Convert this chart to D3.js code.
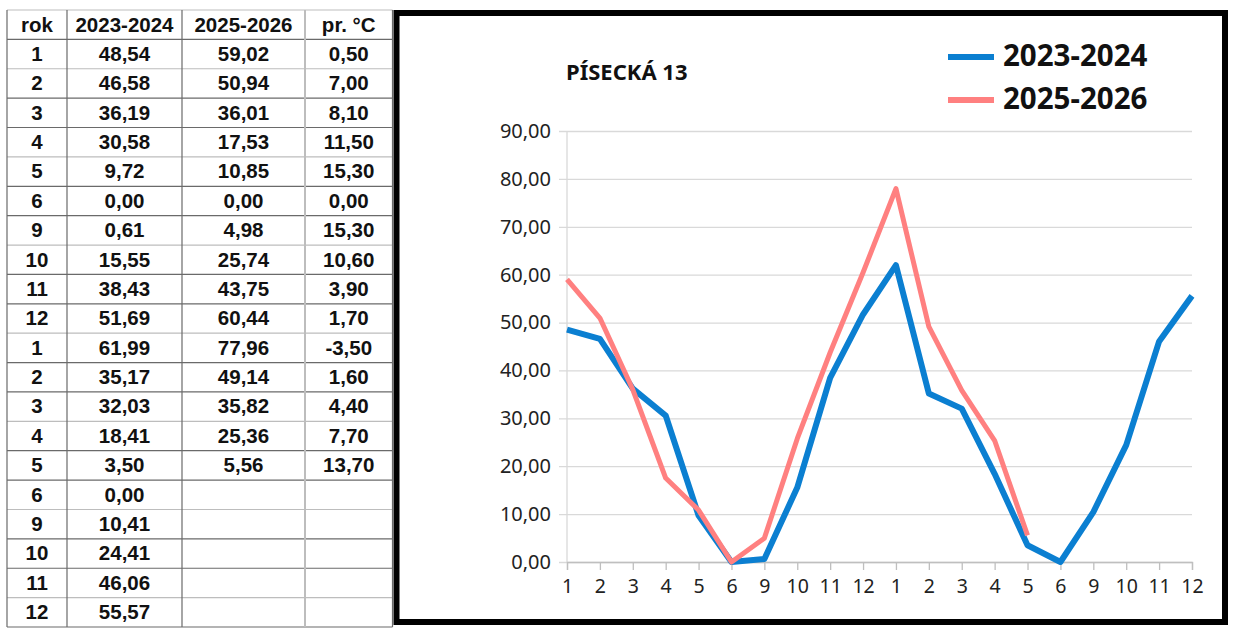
<!DOCTYPE html>
<html>
<head>
<meta charset="utf-8">
<script src="https://cdn.jsdelivr.net/npm/d3@7"></script>
<style>
  html, body { margin: 0; padding: 0; background: #fff; }
  svg { display: block; }
</style>
</head>
<body>
<div class="vis"></div>
<script>
(function() {
  'use strict';

  // table + chart data
  var months = [1, 2, 3, 4, 5, 6, 9, 10, 11, 12, 1, 2, 3, 4, 5, 6, 9, 10, 11, 12];
  var s2023 = [48.54, 46.58, 36.19, 30.58, 9.72, 0.00, 0.61, 15.55, 38.43, 51.69,
               61.99, 35.17, 32.03, 18.41, 3.50, 0.00, 10.41, 24.41, 46.06, 55.57];
  var s2025 = [59.02, 50.94, 36.01, 17.53, 10.85, 0.00, 4.98, 25.74, 43.75, 60.44,
               77.96, 49.14, 35.82, 25.36, 5.56];
  var temps = [0.50, 7.00, 8.10, 11.50, 15.30, 0.00, 15.30, 10.60, 3.90, 1.70,
               -3.50, 1.60, 4.40, 7.70, 13.70];
  var headers = ['rok', '2023-2024', '2025-2026', 'pr. °C'];
  var seriesNames = ['2023-2024', '2025-2026'];
  var yTicks = [0, 10, 20, 30, 40, 50, 60, 70, 80, 90];
  var title = 'PÍSECKÁ 13';

  var W = 1237, H = 638;
  var blue = '#0b7fd1', pink = '#ff8080';

  var svg = d3.select('.vis').append('svg')
    .attr('width', W)
    .attr('height', H);

  var fmt = function(v) { return d3.format('.2f')(v).replace('.', ',').replace('−', '-'); };

  // ---- table ----
  var colX = [7, 67, 182, 305, 392.5],
    tTop = 10, tBottom = 627,
    rowH = (tBottom - tTop) / (months.length + 1);

  var tbl = svg.append('g').attr('class', 'table');

  d3.range(months.length + 2).forEach(function(k) {
    var light = (k === 0 || k % 3 === 2) && k !== months.length + 1;
    tbl.append('line')
      .attr('x1', colX[0]).attr('x2', colX[4])
      .attr('y1', tTop + k * rowH).attr('y2', tTop + k * rowH)
      .attr('stroke', light ? '#bdbdbd' : '#6a6a6a')
      .attr('stroke-width', 1.2);
  });
  colX.forEach(function(x, i) {
    tbl.append('line')
      .attr('x1', x).attr('x2', x)
      .attr('y1', tTop).attr('y2', tBottom)
      .attr('stroke', i === 3 ? '#bdbdbd' : '#6a6a6a')
      .attr('stroke-width', i === 3 ? 2 : 1.2);
  });

  var rows = [headers].concat(months.map(function(m, i) {
    return [m, fmt(s2023[i]),
      i < s2025.length ? fmt(s2025[i]) : '',
      i < temps.length ? fmt(temps[i]) : ''];
  }));

  rows.forEach(function(r, ri) {
    r.forEach(function(txt, ci) {
      tbl.append('text')
        .attr('x', (colX[ci] + colX[ci + 1]) / 2)
        .attr('y', tTop + ri * rowH + 21.5)
        .attr('text-anchor', 'middle')
        .attr('font-family', 'Liberation Sans, Arial, sans-serif')
        .attr('font-weight', 'bold')
        .attr('font-size', 20.5)
        .attr('fill', '#111')
        .text(txt);
    });
  });

  // ---- chart ----
  var x = d3.scalePoint()
    .domain(d3.range(months.length))
    .range([567, 1192]);

  var y = d3.scaleLinear()
    .domain([0, 90])
    .range([562, 131]);

  var chartFont = 'Noto Sans, sans-serif';

  // gridlines + y labels (axis placed at right edge, ticks run left)
  var yAxis = svg.append('g')
    .attr('transform', 'translate(1192,0)')
    .call(d3.axisLeft(y)
      .tickValues(yTicks)
      .tickSize(1192 - 559)
      .tickPadding(8)
      .tickFormat(fmt));
  yAxis.select('.domain').remove();
  yAxis.selectAll('line').attr('stroke', '#d9d9d9').attr('stroke-width', 1.3);
  yAxis.selectAll('text')
    .attr('font-family', chartFont)
    .attr('font-size', 20)
    .attr('fill', '#222');

  svg.append('line')
    .attr('x1', 567).attr('x2', 567)
    .attr('y1', y(90)).attr('y2', y(0))
    .attr('stroke', '#d9d9d9').attr('stroke-width', 1.3);

  var xAxis = svg.append('g')
    .attr('transform', 'translate(0,' + y(0) + ')')
    .call(d3.axisBottom(x)
      .tickSize(8)
      .tickPadding(9)
      .tickFormat(function(i) { return months[i]; }));
  xAxis.select('.domain').attr('stroke', '#bfbfbf').attr('stroke-width', 1.3);
  xAxis.selectAll('line').attr('stroke', '#bfbfbf').attr('stroke-width', 1.3);
  xAxis.selectAll('text')
    .attr('font-family', chartFont)
    .attr('font-size', 19.5)
    .attr('fill', '#222');

  var line = d3.line()
    .x(function(d, i) { return x(i); })
    .y(function(d) { return y(d); });

  svg.append('path')
    .datum(s2023)
    .attr('d', line)
    .attr('fill', 'none')
    .attr('stroke', blue)
    .attr('stroke-width', 6)
    .attr('stroke-linejoin', 'round');

  svg.append('path')
    .datum(s2025)
    .attr('d', line)
    .attr('fill', 'none')
    .attr('stroke', pink)
    .attr('stroke-width', 5)
    .attr('stroke-linejoin', 'round');

  // title
  svg.append('text')
    .attr('x', 566)
    .attr('y', 80)
    .attr('font-family', chartFont)
    .attr('font-weight', 'bold')
    .attr('font-size', 22)
    .attr('fill', '#111')
    .text(title);

  // legend
  var legend = svg.append('g');
  [blue, pink].forEach(function(c, i) {
    var ly = 57 + i * 43;
    legend.append('line')
      .attr('x1', 948).attr('x2', 994)
      .attr('y1', ly).attr('y2', ly)
      .attr('stroke', c)
      .attr('stroke-width', 6);
    legend.append('text')
      .attr('x', 1003)
      .attr('y', ly + 9)
      .attr('font-family', chartFont)
      .attr('font-weight', 'bold')
      .attr('font-size', 29.5)
      .attr('fill', '#111')
      .text(seriesNames[i]);
  });

  // frame
  svg.append('rect')
    .attr('x', 396.5).attr('y', 13)
    .attr('width', 1225 - 396.5).attr('height', 622 - 13)
    .attr('fill', 'none')
    .attr('stroke', '#000')
    .attr('stroke-width', 6);

}());
</script>
</body>
</html>
